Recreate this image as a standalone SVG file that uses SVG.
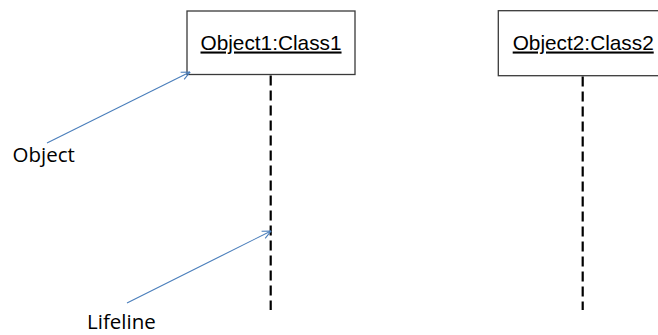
<svg xmlns="http://www.w3.org/2000/svg" width="658" height="335" viewBox="0 0 658 335">
<defs>
<style>
.box{fill:#fff;stroke:#3a3a3a;stroke-width:1.3}
.name{font-family:"Liberation Sans",Arial,sans-serif;font-size:20.8px;fill:#000;text-decoration:underline}
.life{stroke:#000;stroke-width:2.2;stroke-dasharray:10 5;fill:none}
.arr{stroke:#4a7ebb;stroke-width:1.1;fill:none;marker-end:url(#open)}
.lbl{font-family:"Open Sans","Noto Sans",sans-serif;font-size:20.5px;fill:#000}
</style>
<marker id="open" viewBox="0 0 10 10" refX="9.5" refY="5" markerWidth="10" markerHeight="10" markerUnits="userSpaceOnUse" orient="auto">
<path d="M1,1 L9.5,5 L1,9" fill="none" stroke="#4a7ebb" stroke-width="1.1"/>
</marker>
</defs>
<g id="object1">
<rect class="box" x="187" y="11" width="168" height="63.5"/>
<text class="name" x="200.5" y="49.5">Object1:Class1</text>
</g>
<g id="object2">
<rect class="box" x="498.3" y="10.7" width="170" height="65"/>
<text class="name" x="512.7" y="49.5">Object2:Class2</text>
</g>
<g id="connectors">
<line class="life" x1="270.7" y1="75.5" x2="270.7" y2="310"/>
<line class="life" x1="582.7" y1="76.5" x2="582.7" y2="310"/>
<line class="arr" x1="47" y1="143" x2="190" y2="72"/>
<line class="arr" x1="127" y1="303" x2="271" y2="231"/>
</g>
<g id="labels">
<text class="lbl" x="12.5" y="162">Object</text>
<text class="lbl" x="87" y="328.5">Lifeline</text>
</g>
</svg>
